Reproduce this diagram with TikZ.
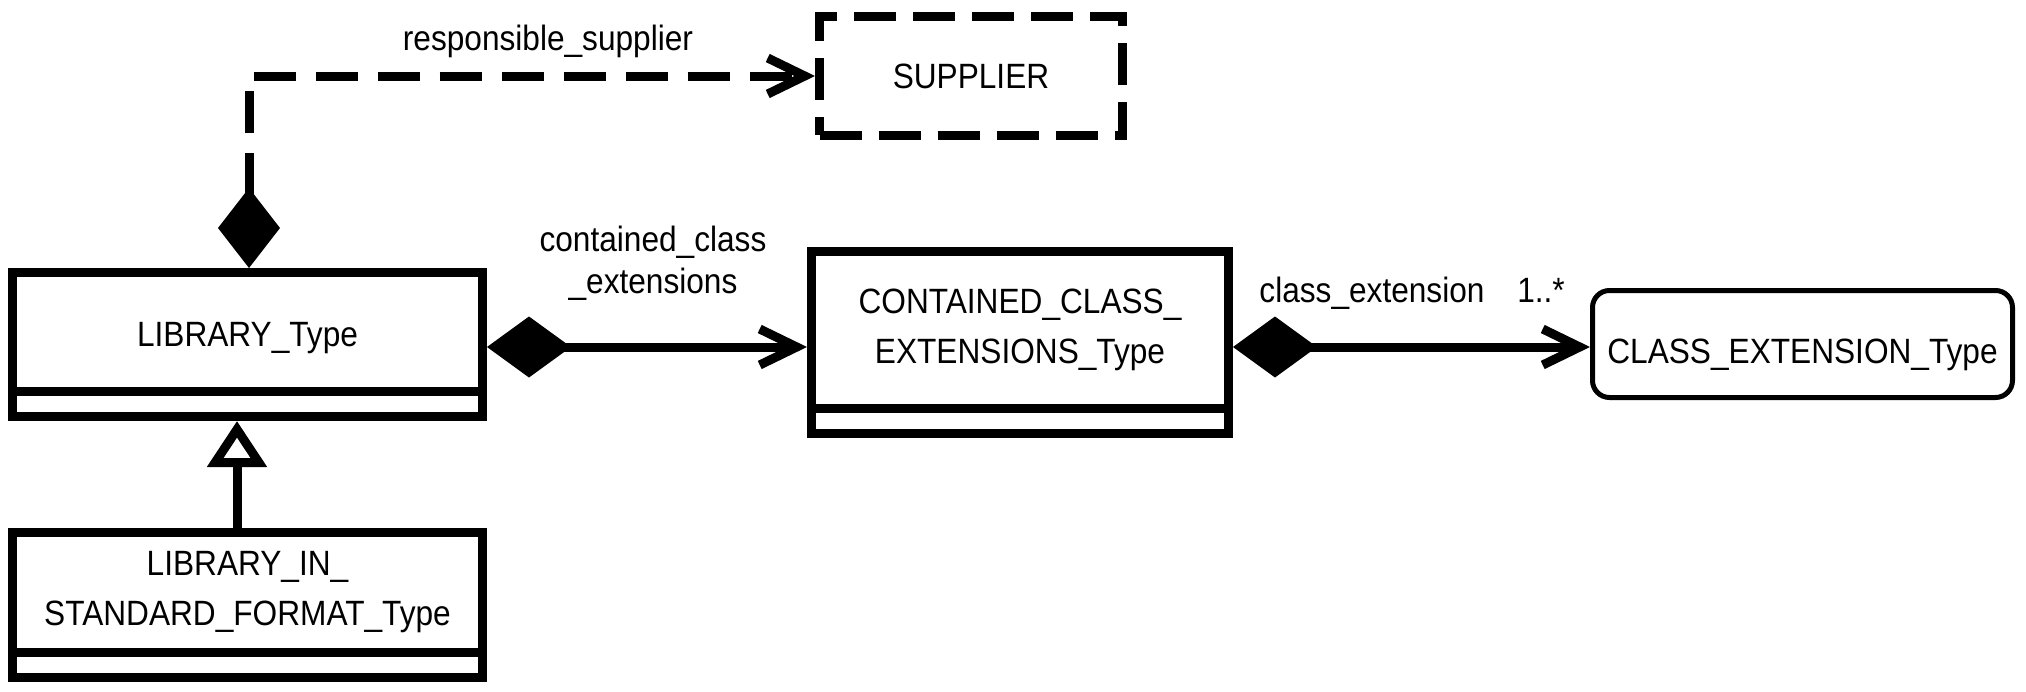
\documentclass[tikz,border=0pt]{standalone}
\usepackage{fontspec}
\setmainfont{Liberation Sans}[FakeStretch=0.9]
\usetikzlibrary{arrows.meta,positioning}

\begin{document}
\begin{tikzpicture}[x=0.1mm, y=-0.1mm,
    classbox/.style={draw, line width=0.9mm, align=center,
      font=\fontsize{10}{14.2}\selectfont},
    slot/.style={draw, line width=0.9mm, minimum height=2.5mm, inner sep=0pt},
    lbl/.style={font=\fontsize{10}{12}\selectfont, inner sep=0pt},
    owns/.style={line width=0.9mm,
      {Diamond[length=8.4mm,width=6.1mm]}-{Straight Barb[length=3.7mm,width=3.6mm]}},
  ]
  \useasboundingbox (0,0) rectangle (2026,692);
  % Classes
  \node[classbox, minimum width=47mm, minimum height=11.9mm,
    text height=3.6mm, text depth=0.6mm] (lib) at (247.5,332) {LIBRARY\_Type};
  \node[slot, minimum width=47mm, below=-0.9mm of lib] (libslot) {};
  \node[classbox, minimum width=47mm, minimum height=12mm] (libstd) at (247.5,592) {LIBRARY\_IN\_\\STANDARD\_FORMAT\_Type};
  \node[slot, minimum width=47mm, below=-0.9mm of libstd] (libstdslot) {};
  \node[classbox, minimum width=41.7mm, minimum height=15.65mm] (cce) at (1020,329.75) {CONTAINED\_CLASS\_\\EXTENSIONS\_Type};
  \node[slot, minimum width=41.7mm, below=-0.9mm of cce] (cceslot) {};
  \node[draw, line width=0.9mm, dash pattern=on 4.2mm off 1.7mm,
    minimum width=30.3mm, minimum height=11.9mm, font=\fontsize{10}{12}\selectfont] (sup) at (971,76) {SUPPLIER};
  \node[draw, line width=0.5mm, rounded corners=1.7mm,
    minimum width=42mm, minimum height=10.7mm, text height=4.4mm, text depth=0.6mm,
    font=\fontsize{10}{12}\selectfont] (cext) at (1802.5,344) {CLASS\_EXTENSION\_Type};
  % Connectors
  \coordinate (row) at (0,347);
  \draw[line width=0.9mm, dash pattern=on 4.2mm off 2mm,
    {Diamond[length=8mm,width=6.2mm]}-{Straight Barb[length=3.7mm,width=3.6mm]}]
    ([xshift=0.15mm]lib.north) |- (sup.west);
  \draw[owns] (lib.east |- row) -- (cce.west |- row);
  \draw[owns] (cce.east |- row) -- (cext.west |- row);
  \draw[line width=0.9mm, -{Triangle[open,length=4.6mm,width=5.8mm]}]
    ([xshift=-1.05mm]libstd.north) -- ([xshift=-1.05mm]libslot.south);
  % Labels
  \node[lbl, anchor=base] (rsup) at (548,50) {responsible\_supplier};
  \node[lbl, anchor=north, align=center] (ccelbl) at (653,225) {contained\_class\\\_extensions};
  \node[lbl, anchor=base] (cextrole) at (1372,302) {class\_extension};
  \node[lbl, anchor=base] (cextmult) at (1541,302) {1..*};
\end{tikzpicture}
\end{document}
